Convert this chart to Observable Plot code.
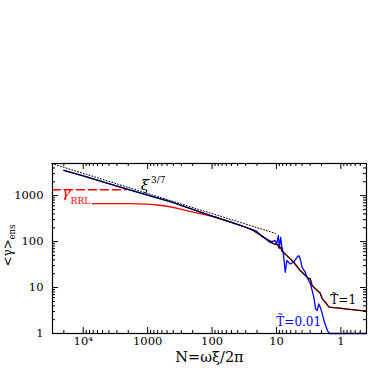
<!DOCTYPE html>
<html><head><meta charset="utf-8">
<script src="https://cdn.jsdelivr.net/npm/d3@7"></script>
<script src="https://cdn.jsdelivr.net/npm/@observablehq/plot@0.6"></script>
<style>body{margin:0;background:#fff}</style>
</head><body><div id="chart"></div>
<script>
// ---- data ----
// T~=1 ensemble (black)
const blackN = [20000, 10000, 3000, 1000, 420, 200, 100, 50, 30, 23, 17, 12.6, 11, 9.5, 9, 8.5, 8.3, 6.9, 5.4, 4.27, 3.55, 3.15, 3.0, 2.79, 2.33, 2.1, 1.94, 1.7, 1.53, 1.3, 1.13, 0.8, 0.48, 0.4];
const blackG = [3550, 2700, 1600, 1020, 720, 500, 360, 262, 205, 175, 135, 97, 90, 85, 72, 75, 64, 49.5, 35.5, 23.4, 18.2, 15.5, 15.8, 11, 8.6, 7.6, 5.66, 4.6, 3.73, 3.65, 3.6, 3.4, 3.16, 3.1];
// T~=0.01 ensemble (blue)
const blueN = [20000, 10000, 3000, 1000, 420, 200, 100, 50, 30, 23, 20, 17, 14, 12, 10.5, 9.9, 9.35, 9.0, 8.6, 8.3, 7.8, 7.3, 6.9, 6.1, 5.44, 4.8, 4.5, 4.27, 4.0, 3.6, 3.35, 2.97, 2.63, 2.47, 2.33, 2.2, 2.07, 1.94, 1.83, 1.62, 1.5, 0.4];
const blueG = [3550, 2700, 1600, 1020, 720, 500, 360, 262, 205, 180, 165, 130, 112, 100, 105, 89, 134, 75, 124, 82, 54, 21.5, 38.6, 32.6, 35.5, 45.5, 49.5, 42, 27.6, 22, 16.8, 12, 6.2, 3.45, 3.16, 4.4, 3.6, 2.68, 1.92, 1.16, 1, 1];
// RRL solid (red)
const redN = [7200, 4000, 2000, 1400, 1000, 700, 475, 330, 230, 160, 126, 88];
const redG = [670, 670, 667, 662, 652, 625, 580, 520, 460, 410, 380, 340];
// RRL dashed level
const rrlN = [30000, 2200];
const rrlG = [1350, 1350];
// xi^(3/7) reference (dotted)
const xiN = [30900, 10.4];
const xiG = [5000, 151];

// ticks
const xMajor = [10000, 1000, 100, 10, 1];
const xMajorLabels = ["10\u2074", "1000", "100", "10", "1"];
const yMajor = [1, 10, 100, 1000];
const yMajorLabels = ["1", "10", "100", "1000"];
const xDomain = [30000, 0.4];
const yDomain = [1, 5000];
const decades = [-1, 0, 1, 2, 3, 4];
const mult = [2, 3, 4, 5, 6, 7, 8, 9];
const xMinor = decades.flatMap(k => mult.map(m => m * 10 ** k)).filter(v => v > 0.4 && v < 30000);
const yMinor = decades.flatMap(k => mult.map(m => m * 10 ** k)).filter(v => v > 1 && v < 5000);

// labels
const labels = [
  {N: 21600, g: 1210, text: "\u03b3", color: "red", size: 15, italic: true},
  {N: 15700, g: 775, text: "RRL", color: "red", size: 9, italic: false},
  {N: 1274, g: 1692, text: "\u03be", color: "black", size: 15, italic: true},
  {N: 890, g: 2218, text: "3/7", color: "black", size: 9, italic: false},
  {N: 1.457, g: 5.3, text: "T\u0303=1", color: "black", size: 12, italic: false},
  {N: 10.05, g: 1.805, text: "T\u0303=0.01", color: "blue", size: 12, italic: false}
];

const pts = (N, G) => N.map((n, i) => ({N: n, g: G[i]}));
const black = pts(blackN, blackG);
const blue = pts(blueN, blueG);
const red = pts(redN, redG).concat(black.filter(d => d.N < 88));
const rrl = pts(rrlN, rrlG);
const xi = pts(xiN, xiG);

const W = 374, H = 374, mt = 163, mb = 41, ml = 52, mr = 8;
const fh = H - mt - mb, fw = W - ml - mr;
const big = 6, small = 3;

const marks = [
  Plot.line(rrl, {x: "N", y: "g", stroke: "#ff0000", strokeWidth: 1.5, strokeDasharray: "8,4"}),
  Plot.line(red, {x: "N", y: "g", stroke: "#ff0000", strokeWidth: 1.3}),
  Plot.line(blue, {x: "N", y: "g", stroke: "#0000ff", strokeWidth: 1.3}),
  Plot.line(black, {x: "N", y: "g", stroke: "#000", strokeWidth: 1.3, strokeOpacity: 0.8}),
  Plot.line(xi, {x: "N", y: "g", stroke: "#000", strokeWidth: 1, strokeDasharray: "1,2"}),
  // ticks: bottom/top
  Plot.tickX(xMajor, {x: d => d, insetTop: fh - big, stroke: "#000"}),
  Plot.tickX(xMajor, {x: d => d, insetBottom: fh - big, stroke: "#000"}),
  Plot.tickX(xMinor, {x: d => d, insetTop: fh - small, stroke: "#000"}),
  Plot.tickX(xMinor, {x: d => d, insetBottom: fh - small, stroke: "#000"}),
  // ticks: left/right
  Plot.tickY(yMajor, {y: d => d, insetRight: fw - big, stroke: "#000"}),
  Plot.tickY(yMajor, {y: d => d, insetLeft: fw - big, stroke: "#000"}),
  Plot.tickY(yMinor, {y: d => d, insetRight: fw - small, stroke: "#000"}),
  Plot.tickY(yMinor, {y: d => d, insetLeft: fw - small, stroke: "#000"}),
  Plot.frame({stroke: "#000", strokeWidth: 1.2}),
  // tick labels
  Plot.text(xMajor, {x: d => d, frameAnchor: "bottom", dy: 11.5, text: (d, i) => xMajorLabels[i], fontSize: 11.5, fill: "#000"}),
  Plot.text(yMajor, {y: d => d, frameAnchor: "left", dx: -9, textAnchor: "end", text: (d, i) => yMajorLabels[i], fontSize: 11.5, fill: "#000"}),
  // axis labels
  Plot.text(["N=\u03c9\u03be/2\u03c0"], {frameAnchor: "bottom", dy: 28.5, text: d => d, fontSize: 14.5, fill: "#000"}),
  Plot.text(["<\u03b3>"], {frameAnchor: "left", rotate: -90, dx: -44.8, dy: 18, textAnchor: "start", text: d => d, fontSize: 12, fill: "#000"}),
  Plot.text(["ens"], {frameAnchor: "left", rotate: -90, dx: -40.7, dy: -9, textAnchor: "start", text: d => d, fontSize: 8.5, fill: "#000"}),
  // annotations
  ...labels.map(l => Plot.text([l], {x: "N", y: "g", text: "text", fill: l.color, fontSize: l.size, fontStyle: l.italic ? "italic" : "normal", textAnchor: "start"}))
];

const chart = Plot.plot({
  width: W, height: H,
  marginTop: mt, marginBottom: mb, marginLeft: ml, marginRight: mr,
  x: {type: "log", domain: xDomain, axis: null},
  y: {type: "log", domain: yDomain, axis: null},
  style: {fontFamily: "DejaVu Serif", fontSize: "11.5px", background: "white", color: "black"},
  marks
});
document.getElementById("chart").appendChild(chart);
</script>
</body></html>
